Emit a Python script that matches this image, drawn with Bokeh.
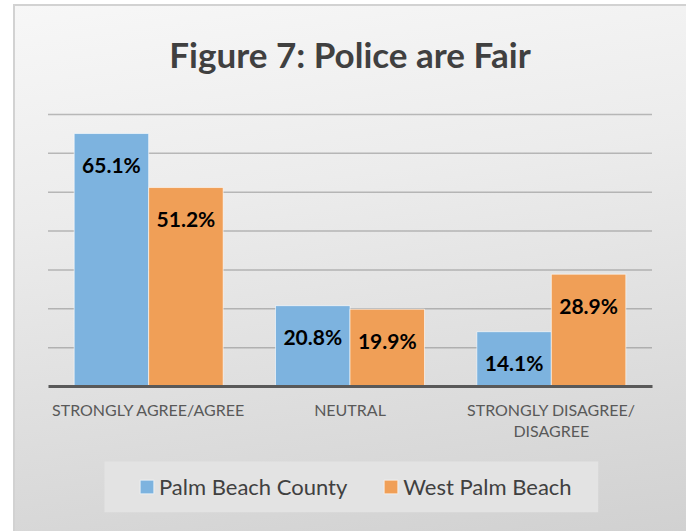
from bokeh.plotting import figure
from bokeh.models import (FactorRange, Range1d, Label, Legend, LegendItem,
                          BoxAnnotation, ColumnDataSource)
from bokeh.transform import dodge
from bokeh.core.properties import value
from bokeh.embed import file_html
from bokeh.resources import INLINE

# ---- data ----
categories = ["STRONGLY AGREE/AGREE", "NEUTRAL", "STRONGLY DISAGREE/\nDISAGREE"]
palm_beach_county = [65.1, 20.8, 14.1]
west_palm_beach = [51.2, 19.9, 28.9]
series_names = ["Palm Beach County", "West Palm Beach"]
y_ticks = [10, 20, 30, 40, 50, 60, 70]
title_text = "Figure 7: Police are Fair"

BLUE = "#7db3df"
ORANGE = "#f09f57"
FONT = "Lato"

# ---- geometry (figure pixels) ----
W, H = 673, 527
PAD_PX = 34.5               # space left/right of the category span
UNIT_X = (W - 2 * PAD_PX) / 3.0
Y0_PX, Y70_PX = 382.0, 110.0   # pixel rows of 0 % and 70 %
UNIT_Y = (Y0_PX - Y70_PX) / 70.0
y_top = 70 + Y70_PX / UNIT_Y
y_bot = -(H - Y0_PX) / UNIT_Y


def dx(px):
    return (px - PAD_PX) / UNIT_X


def dy(px):
    return y_top - px / UNIT_Y


src = ColumnDataSource(dict(
    cat=categories,
    pbc=palm_beach_county,
    wpb=west_palm_beach,
    pbc_lbl=[f"{v}%" for v in palm_beach_county],
    wpb_lbl=[f"{v}%" for v in west_palm_beach],
))

p = figure(width=W, height=H, output_backend="svg", toolbar_location=None,
           x_range=FactorRange(factors=categories, range_padding=PAD_PX / UNIT_X,
                               range_padding_units="absolute"),
           y_range=Range1d(y_bot, y_top), y_axis_location=None, title=None,
           min_border=0)

p.background_fill_color = None
p.border_fill_color = None
p.outline_line_color = None
p.styles = {
    "margin-left": "13px",
    "margin-top": "4px",
    "background": "linear-gradient(172deg, #f7f7f7 0%, #ececec 35%, #d1d1d1 100%)",
    "box-shadow": "inset 2px 2px 0 #d2d2d2",
}

# grid lines (only across the category span)
p.xgrid.grid_line_color = None
p.ygrid.grid_line_color = None
p.segment(x0=[0] * len(y_ticks), x1=[3] * len(y_ticks), y0=y_ticks, y1=y_ticks,
          line_color="#808080", line_alpha=0.5, line_width=1.5)

# bars
w = 0.37
r1 = p.vbar(x=dodge("cat", -0.185, range=p.x_range), top="pbc", width=w, source=src,
            fill_color=BLUE, line_color="white", line_alpha=0.6, line_width=1)
r2 = p.vbar(x=dodge("cat", 0.185, range=p.x_range), top="wpb", width=w, source=src,
            fill_color=ORANGE, line_color="white", line_alpha=0.6, line_width=1)

# data labels
for col, off in (("pbc", -0.185), ("wpb", 0.185)):
    p.text(x=dodge("cat", off, range=p.x_range), y=col, text=col + "_lbl", source=src,
           text_font=value(FONT), text_font_style="bold", text_font_size="21px",
           text_color="#000000", text_align="center", text_baseline="alphabetic",
           y_offset=31)

# x axis at y = 0
ax = p.xaxis[0]
ax.fixed_location = 0
ax.bounds = (0, 3)
ax.axis_line_color = "#595959"
ax.axis_line_width = 3
ax.major_tick_line_color = None
ax.minor_tick_line_color = None
ax.major_tick_out = 0
ax.major_tick_in = 0
ax.major_label_standoff = 13
ax.major_label_text_font = FONT
ax.major_label_text_font_size = "16px"
ax.major_label_text_color = "#595959"
ax.major_label_text_line_height = 1.15

# title
p.add_layout(Label(x=1.5, y=dy(49), text=title_text, text_font=FONT,
                   text_font_style="bold", text_font_size="35px",
                   text_color="#404040", text_align="center",
                   text_baseline="alphabetic"))

# legend background box
p.add_layout(BoxAnnotation(left=dx(91), right=dx(584.7), top=dy(457), bottom=dy(507.7),
                           fill_color="#e3e3e3", fill_alpha=1.0, line_color=None,
                           level="annotation"))

legend = Legend(items=[LegendItem(label=series_names[0], renderers=[r1]),
                       LegendItem(label=series_names[1], renderers=[r2])],
                orientation="horizontal", location=(125, H - 497),
                padding=0, margin=0, spacing=35,
                glyph_width=17, glyph_height=17, label_standoff=4,
                label_width=188, label_height=30,
                label_text_font=FONT, label_text_font_size="22px",
                label_text_color="#404040",
                background_fill_alpha=0, border_line_color=None)
p.add_layout(legend, "center")

open("out.html", "w").write(file_html(p, INLINE))
